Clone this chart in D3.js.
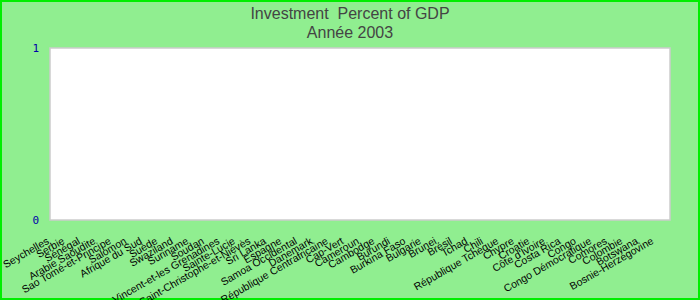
<!DOCTYPE html>
<html>
<head>
<meta charset="utf-8">
<script src="https://cdn.jsdelivr.net/npm/d3@7/dist/d3.min.js"></script>
<style>
  html, body { margin: 0; padding: 0; background: #90ee90; }
  svg { display: block; }
</style>
</head>
<body>
<script>
  'use strict';

  var titleLines = ['Investment  Percent of GDP', 'Année 2003'];

  var countries = [
    'Seychelles', 'Serbie', 'Sénégal', 'Arabie Saoudite', 'Sao Tomé-et-Principe',
    'Salomon', 'Afrique du Sud', 'Suède', 'Swaziland', 'Suriname',
    'Soudan', 'Saint-Vincent-et-les Grenadines', 'Sainte-Lucie', 'Saint-Christophe-et-Niévès', 'Sri Lanka',
    'Espagne', 'Samoa Occidental', 'Danemark', 'République Centrafricaine', 'Cap-Vert',
    'Cameroun', 'Cambodge', 'Burundi', 'Burkina Faso', 'Bulgarie',
    'Brunei', 'Brésil', 'Tchad', 'Chili', 'République Tchèque',
    'Chypre', 'Croatie', "Côte d'Ivoire", 'Costa Rica', 'Congo',
    'Congo Démocratique', 'Comores', 'Colombie', 'Botswana', 'Bosnie-Herzégovine'
  ];

  // no value is drawn for 2003: every bar sits on zero
  var values = [
    0, 0, 0, 0, 0, 0, 0, 0, 0, 0,
    0, 0, 0, 0, 0, 0, 0, 0, 0, 0,
    0, 0, 0, 0, 0, 0, 0, 0, 0, 0,
    0, 0, 0, 0, 0, 0, 0, 0, 0, 0
  ];

  var yTicks = [0, 1];

  var width = 700,
      height = 300,
      margin = { top: 48, right: 30, bottom: 80, left: 50 };

  var svg = d3.select('body')
    .append('svg')
    .attr('width', width)
    .attr('height', height);

  // outer frame
  svg.append('rect')
    .attr('x', 1)
    .attr('y', 1)
    .attr('width', width - 2)
    .attr('height', height - 2)
    .attr('fill', '#90ee90')
    .attr('stroke', '#00ee00')
    .attr('stroke-width', 2);

  svg.selectAll('text.title')
    .data(titleLines)
    .enter()
    .append('text')
    .attr('class', 'title')
    .attr('x', width / 2)
    .attr('y', function(d, i) { return 19 + i * 19; })
    .attr('text-anchor', 'middle')
    .style('white-space', 'pre')
    .style('font-family', '"Liberation Sans", Arial, sans-serif')
    .style('font-size', '16px')
    .style('fill', '#444')
    .text(function(d) { return d; });

  var x = d3.scaleBand()
    .domain(countries)
    .range([margin.left, width - margin.right])
    .paddingInner(0.2)
    .paddingOuter(0.1);

  var y = d3.scaleLinear()
    .domain([0, 1])
    .range([height - margin.bottom, margin.top]);

  // plot area
  svg.append('rect')
    .attr('x', margin.left)
    .attr('y', margin.top)
    .attr('width', width - margin.left - margin.right)
    .attr('height', height - margin.top - margin.bottom)
    .attr('fill', '#fff')
    .attr('stroke', '#ccc')
    .attr('stroke-width', 1.5);

  // bars
  svg.append('g')
    .attr('class', 'bars')
    .selectAll('rect')
    .data(values)
    .enter()
    .append('rect')
    .attr('x', function(d, i) { return x(countries[i]); })
    .attr('y', function(d) { return y(d); })
    .attr('width', x.bandwidth())
    .attr('height', function(d) { return y(0) - y(d); })
    .attr('fill', '#4a7fd0');

  // y axis
  var yAxis = svg.append('g')
    .attr('transform', 'translate(' + (margin.left - 11) + ',0)')
    .call(d3.axisLeft(y).tickValues(yTicks).tickSize(0).tickPadding(0).tickFormat(d3.format('d')));
  yAxis.select('.domain').remove();
  yAxis.selectAll('text')
    .style('font-family', '"DejaVu Sans Mono", "Liberation Mono", monospace')
    .style('font-size', '11px')
    .style('fill', '#0000aa');

  // x axis
  var xAxis = svg.append('g')
    .attr('transform', 'translate(0,' + (height - margin.bottom) + ')')
    .call(d3.axisBottom(x).tickSize(0).tickPadding(0));
  xAxis.select('.domain').remove();
  xAxis.selectAll('text')
    .attr('text-anchor', 'end')
    .attr('dy', null)
    .attr('y', 0)
    .attr('transform', 'translate(-8,23) rotate(-30)')
    .style('font-family', '"Liberation Sans", Arial, sans-serif')
    .style('font-size', '10.5px')
    .style('fill', '#000');
</script>
</body>
</html>
